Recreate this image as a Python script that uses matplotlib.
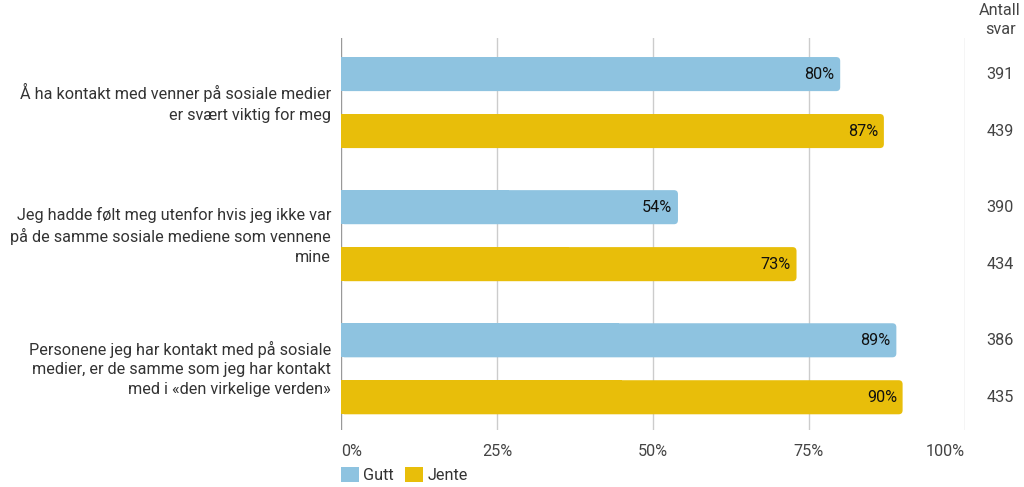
import matplotlib
matplotlib.use("Agg")
import matplotlib.pyplot as plt
from matplotlib.patches import FancyBboxPatch, Patch
import matplotlib.transforms as mtransforms

categories = [
    "Å ha kontakt med venner på sosiale medier\ner svært viktig for meg",
    "Jeg hadde følt meg utenfor hvis jeg ikke var\npå de samme sosiale mediene som vennene\nmine",
    "Personene jeg har kontakt med på sosiale\nmedier, er de samme som jeg har kontakt\nmed i «den virkelige verden»",
]
gutt = [80, 54, 89]
jente = [87, 73, 90]
antall_gutt = [391, 390, 386]
antall_jente = [439, 434, 435]
series_names = ["Gutt", "Jente"]
xticks = [0, 25, 50, 75, 100]
xticklabels = ["0%", "25%", "50%", "75%", "100%"]

BLUE = "#8EC3E0"
YELLOW = "#E8BE0A"
FS = 11.7

plt.rcParams['font.family'] = ['Roboto', 'DejaVu Sans']

fig = plt.figure(figsize=(10.24, 4.87), dpi=100)
ax = fig.add_axes([341/1024, 1-430/487, (965-341)/1024, (430-38)/487])

off = 0.214
h = 0.256
ypos = list(range(len(categories)))
yg = [y - off for y in ypos]
yj = [y + off for y in ypos]

bars_g = ax.barh(yg, gutt, height=h, color=BLUE, zorder=3)
bars_j = ax.barh(yj, jente, height=h, color=YELLOW, zorder=3)

ax.set_xlim(0, 100)
ax.set_ylim(2.46, -0.485)

# rounded right corners
xpx = 100/624
ypx = (2.46+0.485)/392
aspect = ypx/xpx
r = 4*xpx
for bars in (bars_g, bars_j):
    for b in bars:
        x0, y0 = b.get_x(), b.get_y()
        w, hh = b.get_width(), b.get_height()
        col = b.get_facecolor()
        b.set_visible(False)
        p = FancyBboxPatch((x0, y0), w, hh, boxstyle=f"round,pad=0,rounding_size={r}",
                           mutation_aspect=aspect, fc=col, ec="none", zorder=3)
        ax.add_patch(p)
        ax.add_patch(plt.Rectangle((x0, y0), w/2, hh, fc=col, ec="none", zorder=3))

for y, v in zip(yg, gutt):
    ax.text(v - 0.9, y, f"{v}%", ha="right", va="center", fontsize=FS, color="#111111", zorder=4)
for y, v in zip(yj, jente):
    ax.text(v - 0.9, y, f"{v}%", ha="right", va="center", fontsize=FS, color="#111111", zorder=4)

# grid
for t in xticks:
    ax.axvline(t, color="#999999" if t == 0 else "#cccccc", lw=1, zorder=1)
ax.set_xticks(xticks)
ax.set_xticklabels(xticklabels, fontsize=FS, color="#444444")
for lab, ha in zip(ax.get_xticklabels(), ["left", "center", "center", "center", "right"]):
    lab.set_ha(ha)
ax.tick_params(axis="x", length=0, pad=10)
ax.set_yticks([])
for s in ax.spines.values():
    s.set_visible(False)

# category labels
for y, c in zip(ypos, categories):
    ax.text(-1.6, y, c, ha="right", va="center", fontsize=FS, color="#333333",
            linespacing=1.38, transform=ax.transData, clip_on=False)

# right column
trans = mtransforms.blended_transform_factory(fig.transFigure, ax.transData)
for y, n in zip(yg, antall_gutt):
    ax.text(1000/1024, y, str(n), ha="center", va="center", fontsize=FS, color="#444444", transform=trans)
for y, n in zip(yj, antall_jente):
    ax.text(1000/1024, y, str(n), ha="center", va="center", fontsize=FS, color="#444444", transform=trans)
fig.text(1000/1024, 1-20/487, "Antall\nsvar", ha="center", va="center", fontsize=FS,
         color="#444444", linespacing=1.35)

handles = [Patch(fc=BLUE, ec="none", label=series_names[0]),
           Patch(fc=YELLOW, ec="none", label=series_names[1])]
fig.legend(handles=handles, loc="lower left", bbox_to_anchor=(326/1024, -0.022), ncol=2,
           frameon=False, fontsize=FS, handlelength=1.1, handleheight=1.1,
           handletextpad=0.3, columnspacing=0.7, labelcolor="#333333")

fig.savefig("out.png", dpi=100)
